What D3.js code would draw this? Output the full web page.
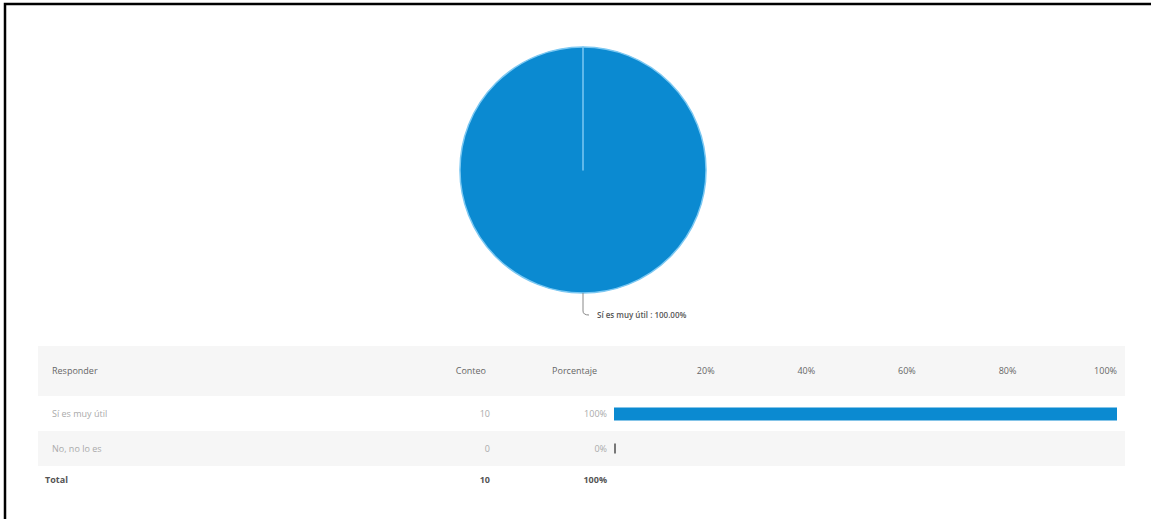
<!DOCTYPE html>
<html>
<head>
<meta charset="utf-8">
<script src="https://cdn.jsdelivr.net/npm/d3@7"></script>
<style>
  html, body { margin: 0; padding: 0; background: #fff; }
  svg { display: block; font-family: "Open Sans", "Noto Sans", sans-serif; }
</style>
</head>
<body>
<svg id="chart" width="1151" height="519"></svg>
<script>
const categories = ["Sí es muy útil", "No, no lo es"];
const counts = [10, 0];
const percentLabels = ["100%", "0%"];
const pieLabel = "Sí es muy útil : 100.00%";
const headers = ["Responder", "Conteo", "Porcentaje"];
const tickValues = [20, 40, 60, 80, 100];
const totalLabel = "Total";
const totalCount = 10;
const totalPercent = "100%";

const blue = "#0b8ad1";
const svg = d3.select("#chart");

// frame
svg.append("path")
  .attr("d", "M5,519 L5,4 L1151,4")
  .attr("fill", "none").attr("stroke", "#000").attr("stroke-width", 2.5);

// pie
const cx = 583, cy = 170, r = 123;
const pie = d3.pie().sort(null).value(d => d);
const arcs = pie(counts);
const arc = d3.arc().innerRadius(0).outerRadius(r);
const g = svg.append("g").attr("transform", `translate(${cx},${cy})`);
g.selectAll("path.slice").data(arcs).join("path")
  .attr("class", "slice")
  .attr("d", arc)
  .attr("fill", blue)
  .attr("stroke", "#7cc8f2")
  .attr("stroke-width", 1.5)
  .attr("stroke-linejoin", "round");

// leader line + label for the main slice
const main = arcs[0];
const mid = (main.startAngle + main.endAngle) / 2;
const p0 = [Math.sin(mid) * r, -Math.cos(mid) * r];
const p1 = [p0[0], p0[1] + 18];
const p2 = [p0[0] + 6, p0[1] + 22];
g.append("path")
  .attr("d", `M${p0[0]},${p0[1]} L${p1[0]},${p1[1]} Q${p1[0]},${p2[1]} ${p2[0]},${p2[1]}`)
  .attr("fill", "none").attr("stroke", "#888").attr("stroke-width", 1);
g.append("text")
  .attr("x", p2[0] + 8).attr("y", p2[1] + 3)
  .attr("font-size", 8).attr("font-weight", 600).attr("fill", "#555")
  .text(pieLabel);

// table
const tableLeft = 38, tableRight = 1125;
const headerY = 346, headerH = 50, rowH = 35;
const xScale = d3.scaleLinear().domain([0, 100]).range([614, 1117]);

svg.append("rect").attr("x", tableLeft).attr("y", headerY)
  .attr("width", tableRight - tableLeft).attr("height", headerH).attr("fill", "#f6f6f6");

const headerTextY = headerY + headerH / 2 + 3;
svg.append("text").attr("x", 52).attr("y", headerTextY)
  .attr("font-size", 9).attr("fill", "#666").text(headers[0]);
svg.append("text").attr("x", 486).attr("y", headerTextY).attr("text-anchor", "end")
  .attr("font-size", 9).attr("fill", "#666").text(headers[1]);
svg.append("text").attr("x", 597).attr("y", headerTextY).attr("text-anchor", "end")
  .attr("font-size", 9).attr("fill", "#666").text(headers[2]);

svg.append("g").selectAll("text").data(tickValues).join("text")
  .attr("x", d => xScale(d)).attr("y", headerTextY).attr("text-anchor", "end")
  .attr("font-size", 9).attr("fill", "#666").text(d => d + "%");

const rowsTop = headerY + headerH;
const total = d3.sum(counts);
const rows = svg.append("g").selectAll("g").data(categories).join("g")
  .attr("transform", (d, i) => `translate(0,${rowsTop + i * rowH})`);
rows.append("rect").attr("x", tableLeft).attr("width", tableRight - tableLeft)
  .attr("height", rowH).attr("fill", (d, i) => i % 2 ? "#f6f6f6" : "#fff");
rows.append("text").attr("x", 52).attr("y", rowH / 2 + 3)
  .attr("font-size", 9).attr("fill", "#aaa").text(d => d);
rows.append("text").attr("x", 490).attr("y", rowH / 2 + 3).attr("text-anchor", "end")
  .attr("font-size", 9).attr("fill", "#aaa").text((d, i) => counts[i]);
rows.append("text").attr("x", 607).attr("y", rowH / 2 + 3).attr("text-anchor", "end")
  .attr("font-size", 9).attr("fill", "#aaa").text((d, i) => percentLabels[i]);
rows.append("rect")
  .attr("x", xScale(0))
  .attr("y", (d, i) => counts[i] > 0 ? rowH / 2 - 6 : rowH / 2 - 5)
  .attr("width", (d, i) => Math.max(2, xScale(counts[i] / total * 100) - xScale(0)))
  .attr("height", (d, i) => counts[i] > 0 ? 13 : 10)
  .attr("fill", (d, i) => counts[i] > 0 ? blue : "#777");

const totalY = rowsTop + categories.length * rowH + 17;
svg.append("text").attr("x", 45).attr("y", totalY)
  .attr("font-size", 9).attr("font-weight", 700).attr("fill", "#555").text(totalLabel);
svg.append("text").attr("x", 490).attr("y", totalY).attr("text-anchor", "end")
  .attr("font-size", 9).attr("font-weight", 700).attr("fill", "#555").text(totalCount);
svg.append("text").attr("x", 607).attr("y", totalY).attr("text-anchor", "end")
  .attr("font-size", 9).attr("font-weight", 700).attr("fill", "#555").text(totalPercent);
</script>
</body>
</html>
